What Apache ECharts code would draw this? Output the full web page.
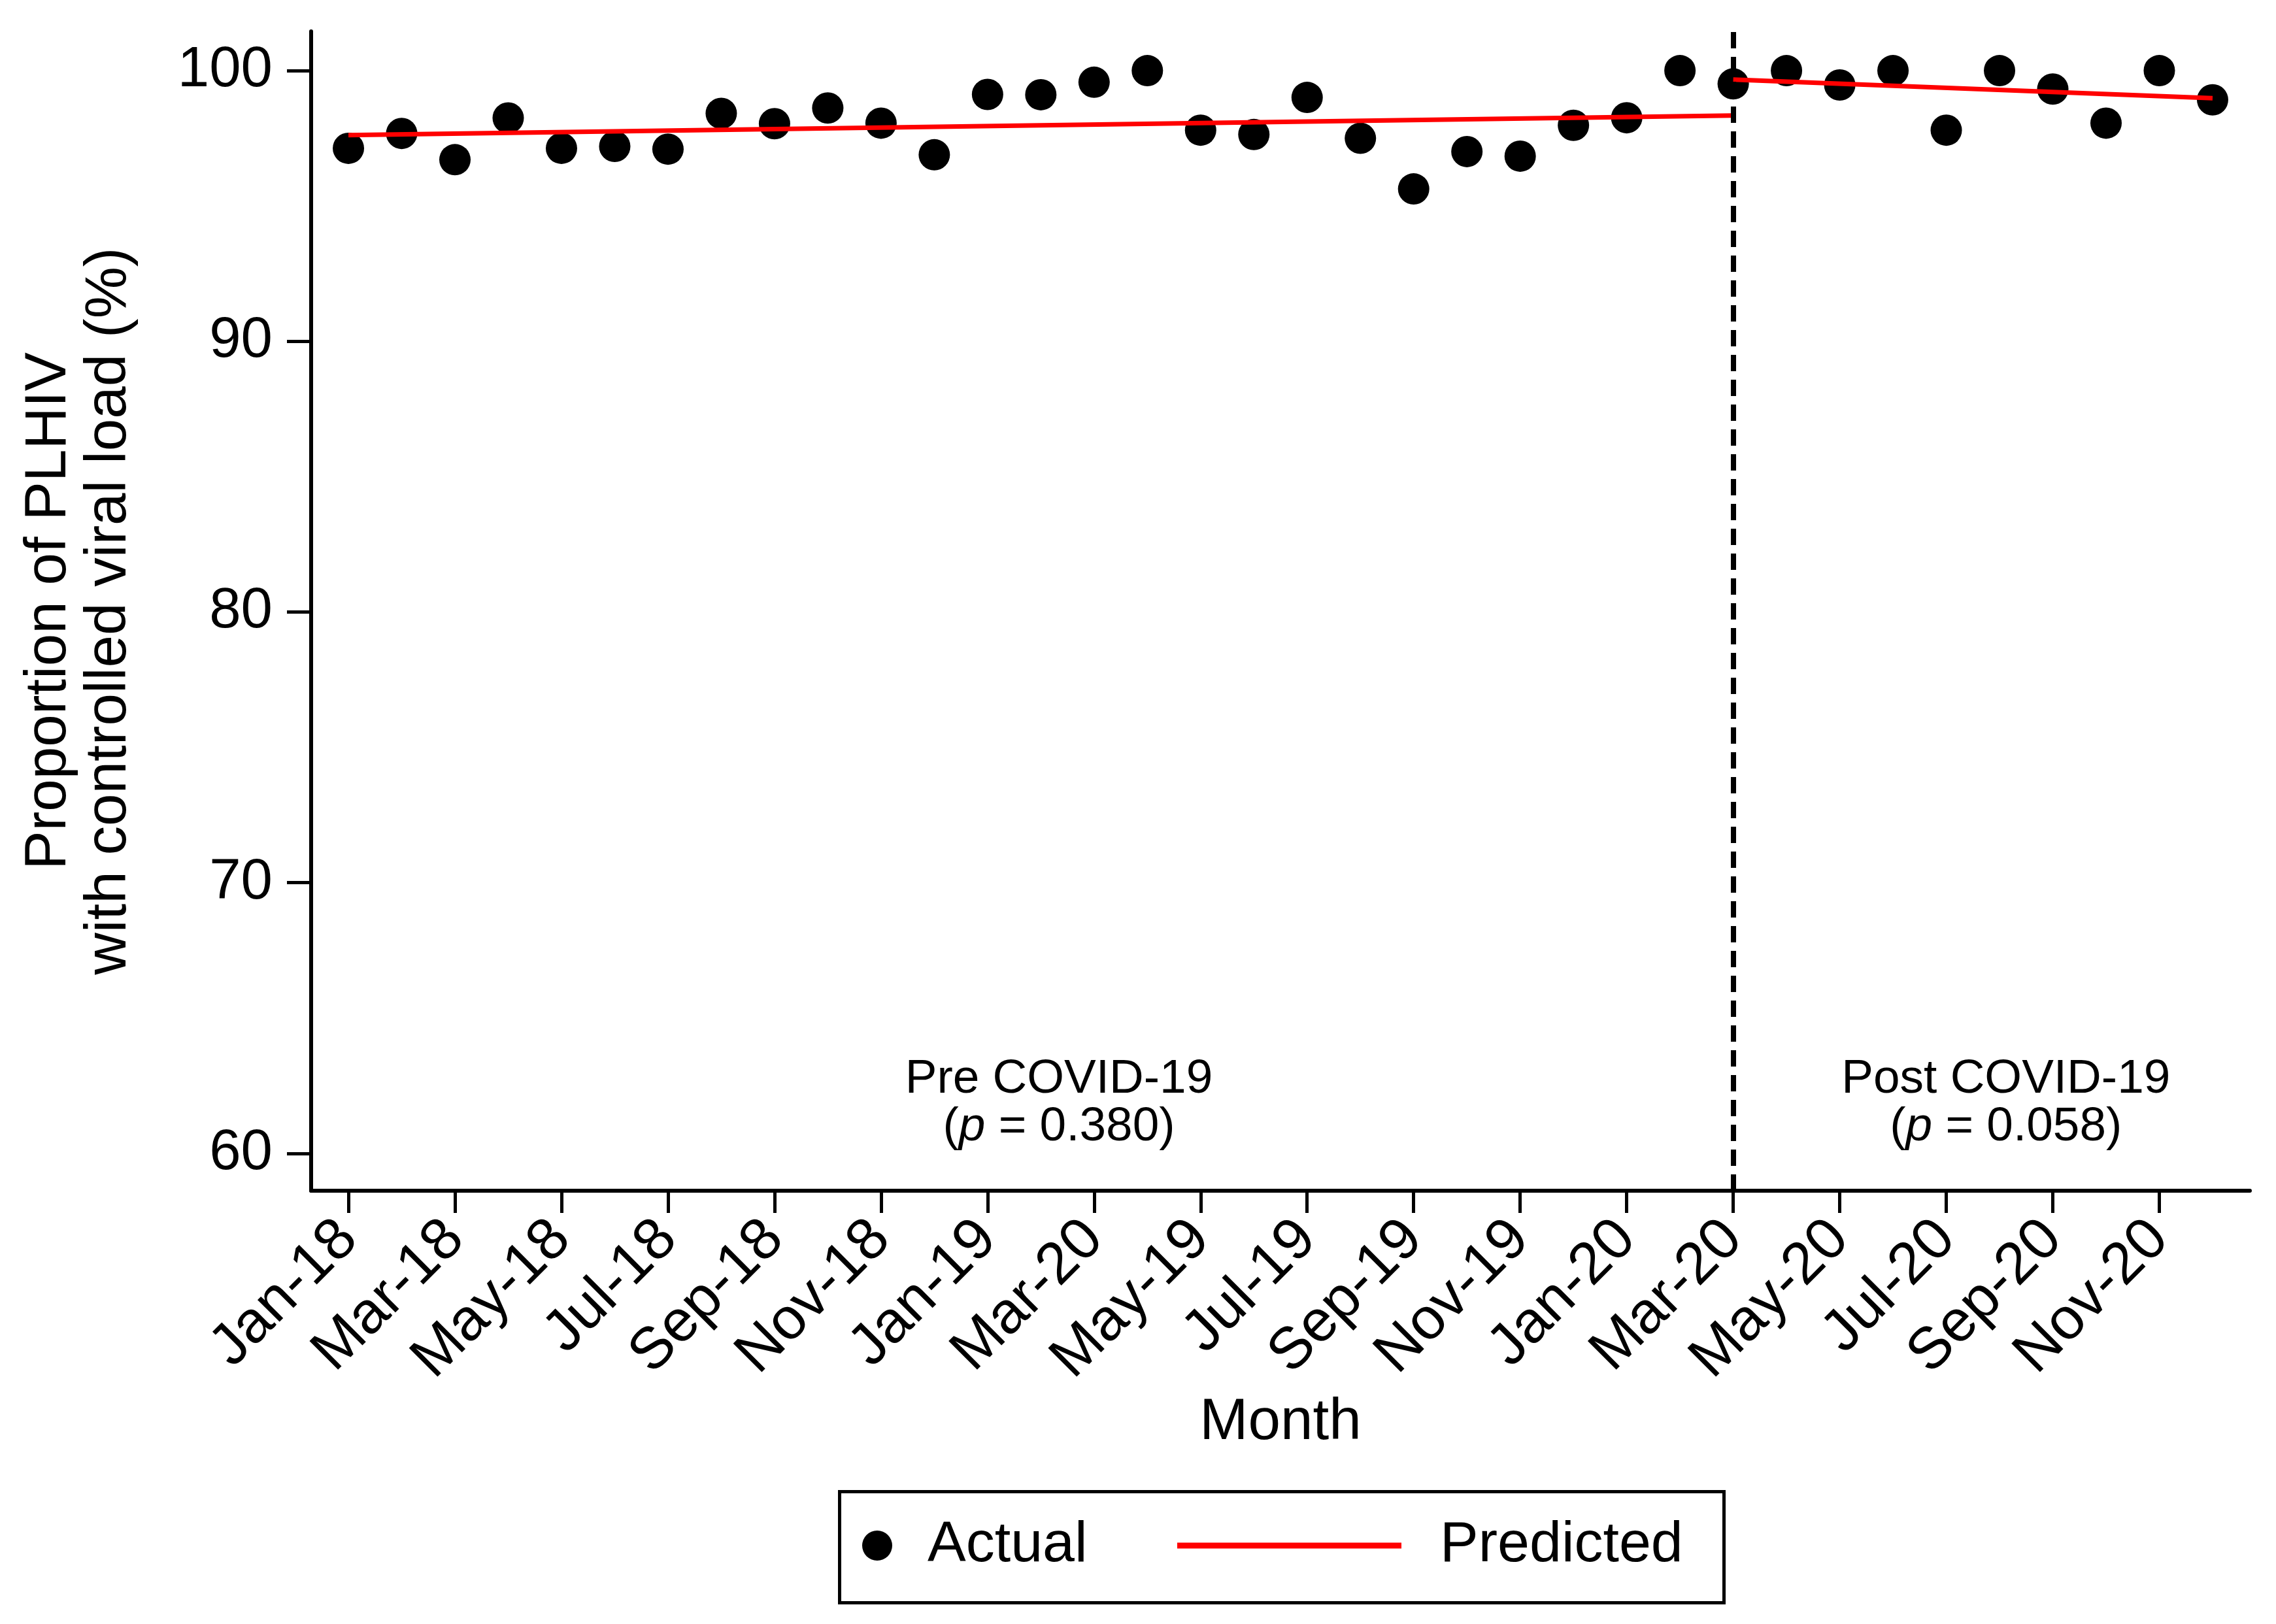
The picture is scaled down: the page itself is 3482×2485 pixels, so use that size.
<!DOCTYPE html>
<html>
<head>
<meta charset="utf-8">
<script src="https://cdn.jsdelivr.net/npm/echarts@6/dist/echarts.min.js"></script>
<style>
html,body{margin:0;padding:0;background:#fff;}
#c{width:3482px;height:2485px;}
</style>
</head>
<body>
<div id="c"></div>
<script>
// ---- data ----
const months = ['Jan-18','Feb-18','Mar-18','Apr-18','May-18','Jun-18','Jul-18','Aug-18','Sep-18','Oct-18','Nov-18','Dec-18',
  'Jan-19','Feb-19','Mar-19','Apr-19','May-19','Jun-19','Jul-19','Aug-19','Sep-19','Oct-19','Nov-19','Dec-19',
  'Jan-20','Feb-20','Mar-20','Apr-20','May-20','Jun-20','Jul-20','Aug-20','Sep-20','Oct-20','Nov-20','Dec-20'];
const actual = [97.13,97.68,96.71,98.25,97.13,97.20,97.10,98.42,98.04,98.62,98.06,96.89,
  99.12,99.11,99.57,100.0,97.80,97.64,99.01,97.50,95.63,97.01,96.84,97.98,
  98.26,100.0,99.51,100.0,99.47,100.0,97.80,100.0,99.32,98.06,100.0,98.92];
// predicted fitted segments: [month index, value]
const predictedPre = [[0, 97.62], [26, 98.34]];
const predictedPost = [[26, 99.67], [35, 98.98]];
const xTickLabels = ['Jan-18','Mar-18','May-18','Jul-18','Sep-18','Nov-18','Jan-19','Mar-20','May-19','Jul-19','Sep-19','Nov-19','Jan-20','Mar-20','May-20','Jul-20','Sep-20','Nov-20'];
const yTickValues = [60, 70, 80, 90, 100];
const interruptionIndex = 26;
const annotations = [
  {x: 13.34, y: 61.84, title: 'Pre COVID-19', p: '0.380'},
  {x: 31.12, y: 61.84, title: 'Post COVID-19', p: '0.058'}
];

// ---- chart ----
const FONT = 'Liberation Sans, Arial, sans-serif';
const xTickValues = xTickLabels.map((_, i) => i * 2);
const chart = echarts.init(document.getElementById('c'));
const option = {
  backgroundColor: '#fff',
  animation: false,
  textStyle: {fontFamily: FONT, color: '#000'},
  grid: {left: 476, right: 40, top: 48, bottom: 663, containLabel: false},
  xAxis: {
    type: 'value', min: -0.7, max: 35.7,
    name: 'Month', nameLocation: 'middle', nameGap: 308,
    nameTextStyle: {fontSize: 89, fontFamily: FONT, color: '#000'},
    axisLine: {show: true, onZero: false, lineStyle: {color: '#000', width: 6}},
    axisTick: {show: true, customValues: xTickValues, length: 34, lineStyle: {color: '#000', width: 5}},
    axisLabel: {show: true, customValues: xTickValues, rotate: 45, margin: 60, fontSize: 90, fontFamily: FONT, color: '#000',
      formatter: v => xTickLabels[Math.round(v / 2)]},
    splitLine: {show: false}
  },
  yAxis: {
    type: 'value', min: 58.62, max: 101.45,
    name: 'Proportion of PLHIV\nwith controlled viral load (%)', nameLocation: 'middle', nameGap: 263, nameRotate: 90,
    nameTextStyle: {fontSize: 89, lineHeight: 92, fontFamily: FONT, color: '#000'},
    axisLine: {show: true, onZero: false, lineStyle: {color: '#000', width: 6}},
    axisTick: {show: true, customValues: yTickValues, length: 37, lineStyle: {color: '#000', width: 5}},
    axisLabel: {show: true, customValues: yTickValues, margin: 59, fontSize: 87, fontFamily: FONT, color: '#000'},
    splitLine: {show: false}
  },
  legend: [
    {
      data: [{name: 'Actual', icon: 'circle'}],
      left: 1319, top: 2315, padding: 0, itemWidth: 46, itemHeight: 46,
      itemStyle: {color: '#000', opacity: 1},
      textStyle: {fontSize: 88, fontFamily: FONT, color: '#000', lineHeight: 100, padding: [0, 0, 0, 49]}
    },
    {
      data: [{name: 'Predicted', icon: 'rect', itemStyle: {color: '#ff0000'}}],
      left: 1801, top: 2315, padding: 0, itemWidth: 343, itemHeight: 9,
      textStyle: {fontSize: 88, fontFamily: FONT, color: '#000', lineHeight: 100, padding: [0, 0, 0, 54]}
    }
  ],
  graphic: [{
    type: 'rect', left: 1282, top: 2280, z: 100, silent: true,
    shape: {width: 1353, height: 170},
    style: {fill: 'none', stroke: '#000', lineWidth: 5}
  }],
  series: [
    {
      name: 'Actual', type: 'scatter', symbol: 'circle', symbolSize: 48,
      itemStyle: {color: '#000', opacity: 1},
      data: actual.map((v, i) => [i, v]),
      z: 3,
      markLine: {
        silent: true, symbol: 'none',
        label: {show: false},
        lineStyle: {color: '#000', width: 8, type: [25, 13], opacity: 1},
        data: [{xAxis: interruptionIndex}]
      },
      markPoint: {
        silent: true,
        symbolSize: 0,
        data: annotations.map(a => ({
          coord: [a.x, a.y], name: a.title,
          label: {
            show: true, position: 'inside',
            formatter: '{n|' + a.title + '}\n{n|(}{i|p}{n| = ' + a.p + ')}',
            rich: {
              n: {fontSize: 73, lineHeight: 73, fontFamily: FONT, color: '#000', align: 'center'},
              i: {fontSize: 73, lineHeight: 73, fontFamily: FONT, color: '#000', fontStyle: 'italic'}
            }
          }
        }))
      }
    },
    {
      name: 'Predicted', type: 'line', showSymbol: false, symbol: 'none',
      lineStyle: {color: '#ff0000', width: 7}, itemStyle: {color: '#ff0000'},
      data: predictedPre, z: 4
    },
    {
      name: 'Predicted', type: 'line', showSymbol: false, symbol: 'none',
      lineStyle: {color: '#ff0000', width: 7}, itemStyle: {color: '#ff0000'},
      data: predictedPost, z: 4
    }
  ]
};
chart.setOption(option);
</script>
</body>
</html>
